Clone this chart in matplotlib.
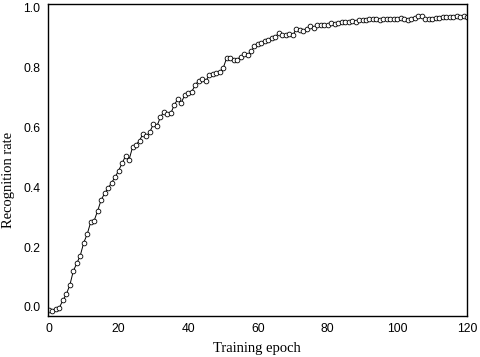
import numpy as np
import matplotlib
matplotlib.use('Agg')
import matplotlib.pyplot as plt

# recognition rate per training epoch
epochs = list(range(0, 121))
rate = [
    -0.010, -0.013, -0.006, -0.002, 0.022, 0.043, 0.073, 0.120, 0.146, 0.172,
    0.215, 0.244, 0.284, 0.289, 0.322, 0.358, 0.380, 0.397, 0.416, 0.434,
    0.456, 0.480, 0.505, 0.492, 0.534, 0.542, 0.556, 0.579, 0.570, 0.586,
    0.612, 0.605, 0.634, 0.653, 0.645, 0.648, 0.676, 0.695, 0.683, 0.709,
    0.715, 0.720, 0.742, 0.757, 0.762, 0.754, 0.776, 0.778, 0.781, 0.787,
    0.798, 0.832, 0.832, 0.826, 0.826, 0.837, 0.845, 0.843, 0.854, 0.871,
    0.878, 0.882, 0.890, 0.893, 0.898, 0.904, 0.915, 0.910, 0.910, 0.912,
    0.908, 0.930, 0.926, 0.921, 0.930, 0.938, 0.932, 0.941, 0.941, 0.941,
    0.943, 0.949, 0.946, 0.949, 0.954, 0.952, 0.954, 0.957, 0.954, 0.960,
    0.960, 0.960, 0.963, 0.963, 0.963, 0.960, 0.963, 0.963, 0.963, 0.963,
    0.963, 0.966, 0.963, 0.960, 0.963, 0.966, 0.971, 0.971, 0.963, 0.963,
    0.963, 0.966, 0.966, 0.968, 0.969, 0.968, 0.968, 0.971, 0.969, 0.971,
    0.968,
]
xticks = [0, 20, 40, 60, 80, 100, 120]
yticks = [0.0, 0.2, 0.4, 0.6, 0.8, 1.0]

fig = plt.figure(figsize=(4.8, 3.57), dpi=100)
ax = fig.add_axes([0.099, 0.115, 0.874, 0.874])

ax.plot(epochs, rate, color='black', linewidth=0.7, marker='o', markersize=3.4,
        markerfacecolor='white', markeredgecolor='black', markeredgewidth=0.6)

ax.set_xlim(-0.4, 119.5)
ax.set_ylim(-0.03, 1.013)
ax.set_xticks(xticks)
ax.set_yticks(yticks)
ax.set_yticklabels(['%.1f' % v for v in yticks])
ax.tick_params(length=0, pad=5, labelsize=8.7)
for lab in ax.get_xticklabels() + ax.get_yticklabels():
    lab.set_fontfamily('Liberation Sans')

for s in ax.spines.values():
    s.set_linewidth(1.0)

ax.set_xlabel('Training epoch', fontfamily='Liberation Serif', fontsize=10.5, labelpad=5)
# y label sits a bit below the axes centre in the reference
fig.text(9 / 480, 1 - 180 / 357, 'Recognition rate', rotation=90, ha='center', va='center',
         fontfamily='Liberation Serif', fontsize=10.5)

fig.savefig('out.png', dpi=100)
